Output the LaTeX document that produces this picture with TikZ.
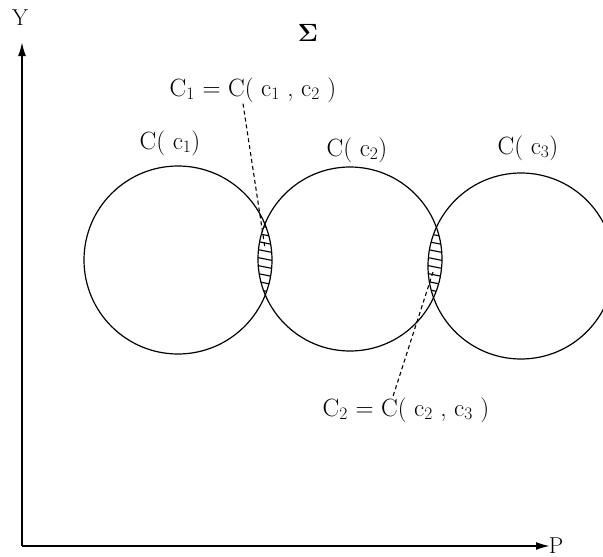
\documentclass[tikz,border=0pt]{standalone}
\usepackage{amsmath,amssymb}
\usepackage{fontspec}
\usepackage{tikz}
\usetikzlibrary{positioning,calc,arrows.meta}
\tikzset{
axis/.style={-{Latex[length=14pt,width=8pt]},line width=1.8pt},
set/.style={line width=1.2pt},
hatch/.style={line width=1.1pt},
pointer/.style={dash pattern=on 4pt off 3pt,line width=1.1pt},
lbl/.style={font=\fontsize{25}{28}\selectfont,inner sep=1pt}
}

\begin{document}
\begin{tikzpicture}[x=1pt,y=-1pt]
\clip (0,0) rectangle (603,557);
\fill[white] (0,0) rectangle (603,557);
% axes
\coordinate (O) at (22,546);
\coordinate (ytip) at (22,42);
\coordinate (xtip) at (550,546);
\draw[axis] (O) -- (ytip);
\draw[axis] (O) -- (xtip);
\node[font=\fontsize{23}{26}\selectfont] (ylab) at (20,18) {Y};
\node[font=\fontsize{23}{26}\selectfont] (plab) at (556,546) {P};
\node[font=\fontsize{28}{30}\selectfont] (sig) at (308,33) {$\boldsymbol{\Sigma}$};
% sets
\coordinate (k1) at (178,260);
\coordinate (k2) at (350,259);
\coordinate (k3) at (521,266);
\draw[set] (k1) circle[radius=94];
\draw[set] (k2) circle[radius=92];
\draw[set] (k3) circle[radius=93];
% hatched overlaps
\begin{scope}
\clip (k1) circle[radius=94];
\clip (k2) circle[radius=92];
\foreach \y in {208,216,...,300}
  \draw[hatch] (250,\y) -- (285,\y+7);
\end{scope}
\begin{scope}
\clip (k2) circle[radius=92];
\clip (k3) circle[radius=93];
\foreach \y in {208,216,...,300}
  \draw[hatch] (420,\y) -- (455,\y+7);
\end{scope}
% labels
\node[lbl] (c1) at (170,143) {C( c\textsubscript{1})};
\node[lbl] (c2) at (357,150) {C( c\textsubscript{2})};
\node[lbl] (c3) at (528,148) {C( c\textsubscript{3})};
\node[lbl] (C1) at (253,90) {C\textsubscript{1} = C( c\textsubscript{1} , c\textsubscript{2} )};
\node[lbl] (C2) at (406,410) {C\textsubscript{2} = C( c\textsubscript{2} , c\textsubscript{3} )};
\coordinate (m1) at (265,248);
\coordinate (m2) at (433,272);
\draw[pointer] (C1.south -| 243,0) -- (m1);
\draw[pointer] (m2) -- (C2.north -| 393,0);
\end{tikzpicture}
\end{document}
